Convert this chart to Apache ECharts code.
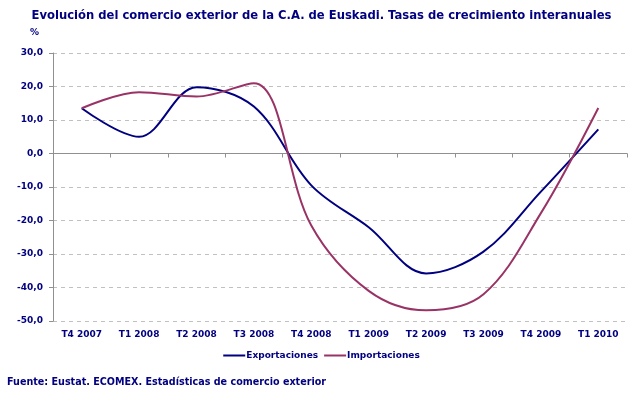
<!DOCTYPE html>
<html>
<head>
<meta charset="utf-8">
<script src="https://cdn.jsdelivr.net/npm/echarts@6/dist/echarts.min.js"></script>
<style>
  html, body { margin: 0; padding: 0; background: #fff; }
  #chart { width: 643px; height: 399px; }
</style>
</head>
<body>
<div id="chart"></div>
<script>
// trimestres
var categories = ["T4 2007", "T1 2008", "T2 2008", "T3 2008", "T4 2008",
                  "T1 2009", "T2 2009", "T3 2009", "T4 2009", "T1 2010"];
// tasas de crecimiento interanual (%)
var exportaciones = [13.5, 5.0, 19.8, 14.0, -9.5, -22.0, -35.8, -29.3, -11.4, 7.2];
var importaciones = [13.5, 18.3, 17.0, 21.0, -21.5, -41.0, -46.8, -42.0, -17.8, 13.6];
var yTicks = { min: -50, max: 30, interval: 10 };

var navy = "#000080";
var font = "DejaVu Sans";

var myChart = echarts.init(document.getElementById("chart"));

var option = {
  color: [navy, "#993366"],
  animation: false,
  title: {
    text: "Evolución del comercio exterior de la C.A. de Euskadi. Tasas de crecimiento interanuales",
    left: "center",
    top: 5,
    textStyle: { color: navy, fontFamily: font, fontSize: 11.6, fontWeight: "bold" }
  },
  graphic: [
    {
      type: "text", left: 30, top: 28,
      style: { text: "%", fill: navy, font: "bold 9px " + font }
    },
    {
      type: "text", left: 7, top: 377,
      style: { text: "Fuente: Eustat. ECOMEX. Estadísticas de comercio exterior", fill: navy, font: "bold 9.6px " + font }
    }
  ],
  legend: {
    top: 346,
    left: "center",
    itemWidth: 22,
    itemHeight: 2,
    itemGap: 6,
    icon: "rect",
    textStyle: { color: navy, fontFamily: font, fontSize: 9, fontWeight: "bold", padding: [0, 0, 0, -4] },
    data: ["Exportaciones", "Importaciones"]
  },
  grid: { left: 53, right: 16, top: 53, bottom: 78 },
  xAxis: [
    {
      type: "category",
      data: categories,
      position: "bottom",
      axisLine: { show: false, onZero: false },
      axisTick: { show: false },
      axisLabel: { color: navy, fontFamily: font, fontSize: 9, fontWeight: "bold", margin: 9 }
    },
    {
      type: "category",
      data: categories,
      position: "bottom",
      axisLine: { onZero: true, lineStyle: { color: "#909090", width: 1 } },
      axisTick: { show: true, length: 4, lineStyle: { color: "#909090" } },
      axisLabel: { show: false }
    }
  ],
  yAxis: {
    type: "value",
    min: yTicks.min,
    max: yTicks.max,
    interval: yTicks.interval,
    axisLine: { show: true, lineStyle: { color: "#909090" } },
    axisTick: { show: true, length: 4, lineStyle: { color: "#909090" } },
    axisLabel: {
      color: navy, fontFamily: font, fontSize: 9, fontWeight: "bold", margin: 10,
      formatter: function (v) { return v.toFixed(1).replace(".", ","); }
    },
    splitLine: { lineStyle: { color: "#c0c0c0", type: [4, 4] } }
  },
  series: [
    {
      name: "Exportaciones",
      type: "line",
      data: exportaciones,
      smooth: 0.35,
      showSymbol: false,
      lineStyle: { width: 2, join: "round" }
    },
    {
      name: "Importaciones",
      type: "line",
      data: importaciones,
      smooth: 0.35,
      showSymbol: false,
      lineStyle: { width: 2, join: "round" }
    }
  ]
};

myChart.setOption(option);
</script>
</body>
</html>
